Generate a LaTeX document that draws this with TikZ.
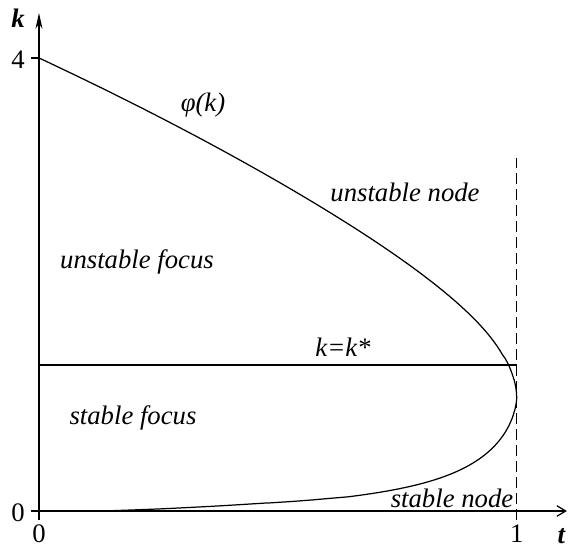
\documentclass[tikz,border=0pt]{standalone}
\usepackage{fontspec}
\setmainfont{Liberation Serif}
\usetikzlibrary{arrows.meta}

\newcommand{\lblsize}{\fontsize{15.2}{18}\selectfont}
\tikzset{
  region/.style={font=\lblsize\itshape, inner sep=0pt},
  axislabel/.style={font=\lblsize\bfseries\itshape, inner sep=0pt},
  ticklabel/.style={font=\lblsize, inner sep=0pt},
}

\begin{document}
\begin{tikzpicture}[x=9.554cm, y=2.265cm, line width=0.7pt]
\useasboundingbox (-0.0816,-0.3267) rectangle (1.1137,4.512);

% Axes
\coordinate (O) at (0,0);
\coordinate (ybot) at (0,-0.08);
\coordinate (ytop) at (0,4.397);
\coordinate (xleft) at (-0.0167,0);
\coordinate (xright) at (1.105,0);
\draw[-{Stealth[length=9pt,width=4pt]}] (ybot) -- (ytop);
\draw[-{Straight Barb[length=5pt,width=6pt]}] (xleft) -- (xright);
\node[axislabel] (klab) at (-0.044,4.353) {k};
\node[axislabel, anchor=base west] (tlab) at (1.0844,-0.283) {t};

% Ticks
\coordinate (four) at (0,4);
\coordinate (fourl) at (-0.0167,4);
\draw (fourl) -- (four);
\node[ticklabel] (l4) at (-0.044,3.982) {4};
\node[ticklabel] (l0y) at (-0.044,-0.018) {0};
\node[ticklabel] (l0x) at (0,-0.2) {0};
\node[ticklabel] (l1x) at (1,-0.2) {1};

% t = 1
\coordinate (dbot) at (1,-0.08);
\coordinate (dtop) at (1,3.117);
\draw[dash pattern=on 0.22cm off 0.1cm, line width=0.8pt] (dbot) -- (dtop);

% k = k*
\coordinate (kstar) at (0,1.289);
\coordinate (kstarr) at (1,1.289);
\draw (kstar) -- (kstarr);

% phi(k): upper branch, lower branch, tail along the axis
\draw plot[domain=4:1.001, samples=80, variable=\k]
    ({1-((\k-1)/3)^(1.52+0.3*(1-(\k-1)/3)^3)}, \k)
  -- plot[domain=0.999:0.071, samples=70, variable=\k]
    ({1-0.1158*(-ln(\k))^1.55}, \k)
  -- plot[smooth, tension=0.5] coordinates {
    (0.477,0.071) (0.3726,0.044) (0.25,0.018) (0.134,0)};

% Labels
\node[region] (phi) at (0.3433,3.585) {φ(k)};
\node[region] (unode) at (0.7662,2.817) {unstable node};
\node[region] (ufocus) at (0.2051,2.199) {unstable focus};
\node[region] (sfocus) at (0.1968,0.821) {stable focus};
\node[region] (keq) at (0.6364,1.448) {k=k*};
\node[region] (snode) at (0.8646,0.115) {stable node};
\end{tikzpicture}
\end{document}
